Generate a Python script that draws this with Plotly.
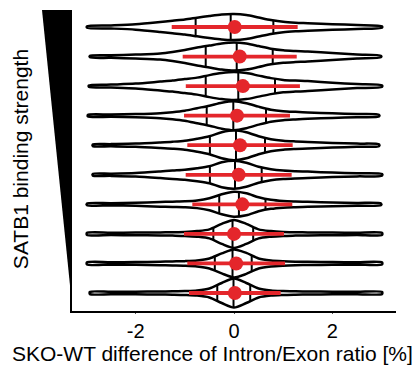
import numpy as np
import plotly.graph_objects as go

# Ten groups ordered by SATB1 binding strength (strongest at the top)
groups = [10, 9, 8, 7, 6, 5, 4, 3, 2, 1]

# Kernel-density outline of each group, sampled on a shared grid of
# intron/exon-ratio differences (interior points); the ends are each
# group's own data range.
grid_x = [-2.5, -2.0, -1.5, -1.25, -1.0, -0.75, -0.5, -0.25, 0.0,
          0.25, 0.5, 0.75, 1.0, 1.25, 1.5, 2.0, 2.5]
x_min = [-2.99, -2.93, -2.95, -2.97, -2.87, -2.87, -2.99, -2.99, -2.99, -2.93]
x_max = [3.01, 2.99, 3.01, 2.95, 2.95, 3.01, 2.99, 3.01, 3.01, 3.01]

density = [
    [0.6, 1.5, 2.7, 5.0, 6.3, 7.5, 9.3, 11.0, 12.5, 13.0, 12.0, 9.5, 7.0, 5.2, 4.3, 3.8, 2.8, 2.0, 0.6],
    [0.7, 1.3, 2.0, 3.0, 4.5, 6.5, 9.0, 11.0, 13.0, 14.0, 13.0, 10.5, 7.8, 6.2, 5.5, 5.0, 3.5, 2.0, 0.7],
    [0.7, 1.5, 2.5, 4.5, 5.5, 7.0, 8.5, 11.0, 13.0, 14.0, 13.0, 10.5, 8.0, 6.2, 5.5, 5.0, 3.3, 2.0, 0.7],
    [0.8, 1.1, 1.6, 2.5, 3.5, 5.0, 7.5, 10.0, 13.0, 14.5, 12.5, 9.0, 6.0, 4.5, 3.8, 3.2, 2.3, 1.6, 0.8],
    [0.8, 1.1, 1.6, 2.8, 3.5, 4.5, 6.5, 9.0, 13.0, 15.0, 13.0, 9.0, 6.0, 4.5, 3.8, 3.3, 2.3, 1.6, 0.8],
    [0.8, 1.1, 1.8, 3.3, 4.2, 5.0, 6.5, 8.5, 12.5, 14.0, 12.0, 8.0, 5.5, 4.2, 3.6, 3.2, 2.2, 1.6, 0.8],
    [0.8, 1.1, 1.5, 2.3, 2.7, 3.0, 3.8, 6.0, 10.0, 12.5, 11.0, 7.0, 4.5, 3.3, 2.8, 2.5, 1.9, 1.4, 0.8],
    [1.0, 1.2, 1.3, 1.5, 1.7, 2.0, 2.8, 4.5, 10.0, 14.0, 10.0, 4.5, 2.8, 2.0, 1.7, 1.5, 1.3, 1.2, 1.0],
    [1.0, 1.2, 1.4, 1.7, 2.0, 2.3, 3.0, 5.0, 10.0, 14.0, 10.5, 5.0, 3.0, 2.2, 1.8, 1.6, 1.4, 1.2, 1.0],
    [1.0, 1.2, 1.3, 1.5, 1.7, 2.0, 2.6, 4.5, 10.0, 14.5, 10.0, 4.5, 2.6, 2.0, 1.7, 1.5, 1.3, 1.2, 1.0],
]

# Quartiles of each group
q1 = [-0.78, -0.575, -0.575, -0.555, -0.49, -0.49, -0.30, -0.42, -0.39, -0.34]
median = [-0.067, 0.055, 0.087, -0.014, 0.04, 0.02, 0.10, -0.03, -0.03, -0.01]
q3 = [0.80, 0.787, 0.833, 0.65, 0.63, 0.563, 0.64, 0.39, 0.36, 0.33]

# Mean and standard deviation of each group
mean = [0.014, 0.116, 0.18, 0.061, 0.122, 0.095, 0.169, 0.0, 0.044, 0.017]
sd = [1.28, 1.159, 1.16, 1.077, 1.071, 1.077, 1.016, 1.016, 0.993, 0.932]

x_ticks = [-2, 0, 2]
x_tick_text = ["-2", "0", "2"]

RED = "#E4262B"
FONT = "Liberation Sans, Arial, sans-serif"
WIDTH_SCALE = 1 / 29.56  # density units -> half-width on the group axis

fig = go.Figure()

# Violin outlines
for g, d, lo, hi in zip(groups, density, x_min, x_max):
    xs = np.array([lo] + grid_x + [hi])
    w = np.array(d) * WIDTH_SCALE
    px = np.concatenate([xs, xs[::-1], xs[:1]])
    py = np.concatenate([g + w, (g - w)[::-1], [g + w[0]]])
    fig.add_trace(go.Scatter(x=px, y=py, mode="lines",
                             line=dict(color="black", width=2.5, shape="spline", smoothing=0.8),
                             hoverinfo="skip", showlegend=False))

# Quartile lines drawn across each violin
qx, qy = [], []
for g, d, lo, hi, a, b, c in zip(groups, density, x_min, x_max, q1, median, q3):
    xs = np.array([lo] + grid_x + [hi])
    for q in (a, b, c):
        w = float(np.interp(q, xs, d)) * WIDTH_SCALE
        qx += [q, q, None]
        qy += [g - w, g + w, None]
fig.add_trace(go.Scatter(x=qx, y=qy, mode="lines", line=dict(color="black", width=2),
                         hoverinfo="skip", showlegend=False))

# Mean +/- SD
sx, sy = [], []
for g, m, s in zip(groups, mean, sd):
    sx += [m - s, m + s, None]
    sy += [g, g, None]
fig.add_trace(go.Scatter(x=sx, y=sy, mode="lines", line=dict(color=RED, width=3.8),
                         hoverinfo="skip", showlegend=False))
fig.add_trace(go.Scatter(x=mean, y=groups, mode="markers",
                         marker=dict(color=RED, size=14, line=dict(width=0)),
                         showlegend=False))

fig.update_layout(
    width=417, height=369,
    margin=dict(l=72, r=21, t=10, b=58),
    paper_bgcolor="white", plot_bgcolor="white",
    font=dict(family=FONT, size=20, color="black"),
    xaxis=dict(range=[-3.293, 3.293], tickvals=x_ticks, ticktext=x_tick_text,
               showline=True, linecolor="black", linewidth=2, mirror=False,
               ticks="outside", ticklen=1, tickwidth=1, tickcolor="#555",
               showgrid=False, zeroline=False,
               tickfont=dict(family=FONT, size=20, color="black")),
    yaxis=dict(range=[0.391, 10.575], showticklabels=False, ticks="",
               showline=True, linecolor="black", linewidth=2,
               showgrid=False, zeroline=False),
    shapes=[dict(type="path", xref="paper", yref="paper",
                 path="M -0.0926,1 L 0,1 L 0,0.02 Z",
                 fillcolor="black", line=dict(width=0))],
    annotations=[
        dict(text="SKO-WT difference of Intron/Exon ratio [%]", xref="paper", yref="paper",
             x=0.434, y=-0.14, xanchor="center", yanchor="middle", showarrow=False,
             font=dict(family=FONT, size=21, color="black")),
        dict(text="SATB1 binding strength", xref="paper", yref="paper",
             x=-0.157, y=0.505, xanchor="center", yanchor="middle", textangle=-90,
             showarrow=False, font=dict(family=FONT, size=21, color="black")),
    ],
)

fig.write_html("out.html")
